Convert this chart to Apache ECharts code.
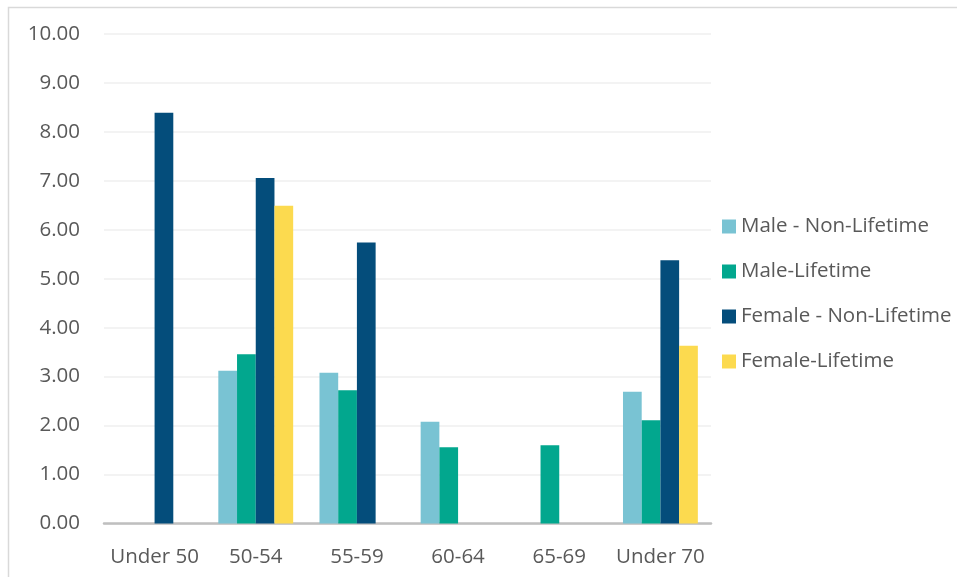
<!DOCTYPE html>
<html>
<head>
<meta charset="utf-8">
<script src="https://cdn.jsdelivr.net/npm/echarts@6/dist/echarts.min.js"></script>
<style>
  html, body { margin: 0; padding: 0; background: #fff; }
  #chart { width: 957px; height: 577px; }
</style>
</head>
<body>
<div id="chart"></div>
<script>
// Age bands on the x axis
var categories = ['Under 50', '50-54', '55-59', '60-64', '65-69', 'Under 70'];

// Values per series (null = no bar)
var maleNonLifetime   = [null, 3.12, 3.08, 2.08, null, 2.69];
var maleLifetime      = [null, 3.46, 2.72, 1.56, 1.60, 2.11];
var femaleNonLifetime = [8.39, 7.06, 5.74, null, null, 5.38];
var femaleLifetime    = [null, 6.49, null, null, null, 3.63];

var seriesNames = ['Male - Non-Lifetime', 'Male-Lifetime', 'Female - Non-Lifetime', 'Female-Lifetime'];
var seriesColors = ['#79C3D3', '#02A78E', '#044D7B', '#FCDA4F'];
var seriesData = [maleNonLifetime, maleLifetime, femaleNonLifetime, femaleLifetime];

var FONT = '"Open Sans", "Noto Sans", sans-serif';
var TEXT = '#595959';
var FS = 20.5;

var chart = echarts.init(document.getElementById('chart'), null, { renderer: 'canvas' });

chart.setOption({
  animation: false,
  backgroundColor: '#ffffff',
  textStyle: { fontFamily: FONT },
  graphic: [{
    type: 'rect',
    left: 6, top: 5,
    shape: { width: 950, height: 572 },
    style: { fill: 'none', stroke: '#d9d9d9', lineWidth: 1.5 },
    silent: true
  }],
  grid: { left: 104, right: 246, top: 34, bottom: 53.5 },
  legend: {
    orient: 'vertical',
    left: 722, top: 216,
    padding: 0,
    itemWidth: 14, itemHeight: 14,
    itemGap: 24,
    icon: 'rect',
    data: seriesNames,
    textStyle: { color: TEXT, fontSize: FS, fontFamily: FONT, lineHeight: 21 }
  },
  xAxis: {
    type: 'category',
    data: categories,
    axisLine: { show: true, lineStyle: { color: '#bfbfbf', width: 2.5 } },
    axisTick: { show: false },
    axisLabel: { color: TEXT, fontSize: FS, fontFamily: FONT, margin: 23, interval: 0 }
  },
  yAxis: {
    type: 'value',
    min: 0, max: 10, interval: 1,
    axisLine: { show: false },
    axisTick: { show: false },
    splitLine: { lineStyle: { color: '#efefef', width: 1.5 } },
    axisLabel: {
      color: TEXT, fontSize: FS, fontFamily: FONT, margin: 24,
      formatter: function (v) { return v.toFixed(2); }
    }
  },
  series: seriesNames.map(function (name, i) {
    return {
      name: name,
      type: 'bar',
      data: seriesData[i],
      barGap: '0%',
      barCategoryGap: '26%',
      itemStyle: { color: seriesColors[i] }
    };
  })
});
</script>
</body>
</html>
